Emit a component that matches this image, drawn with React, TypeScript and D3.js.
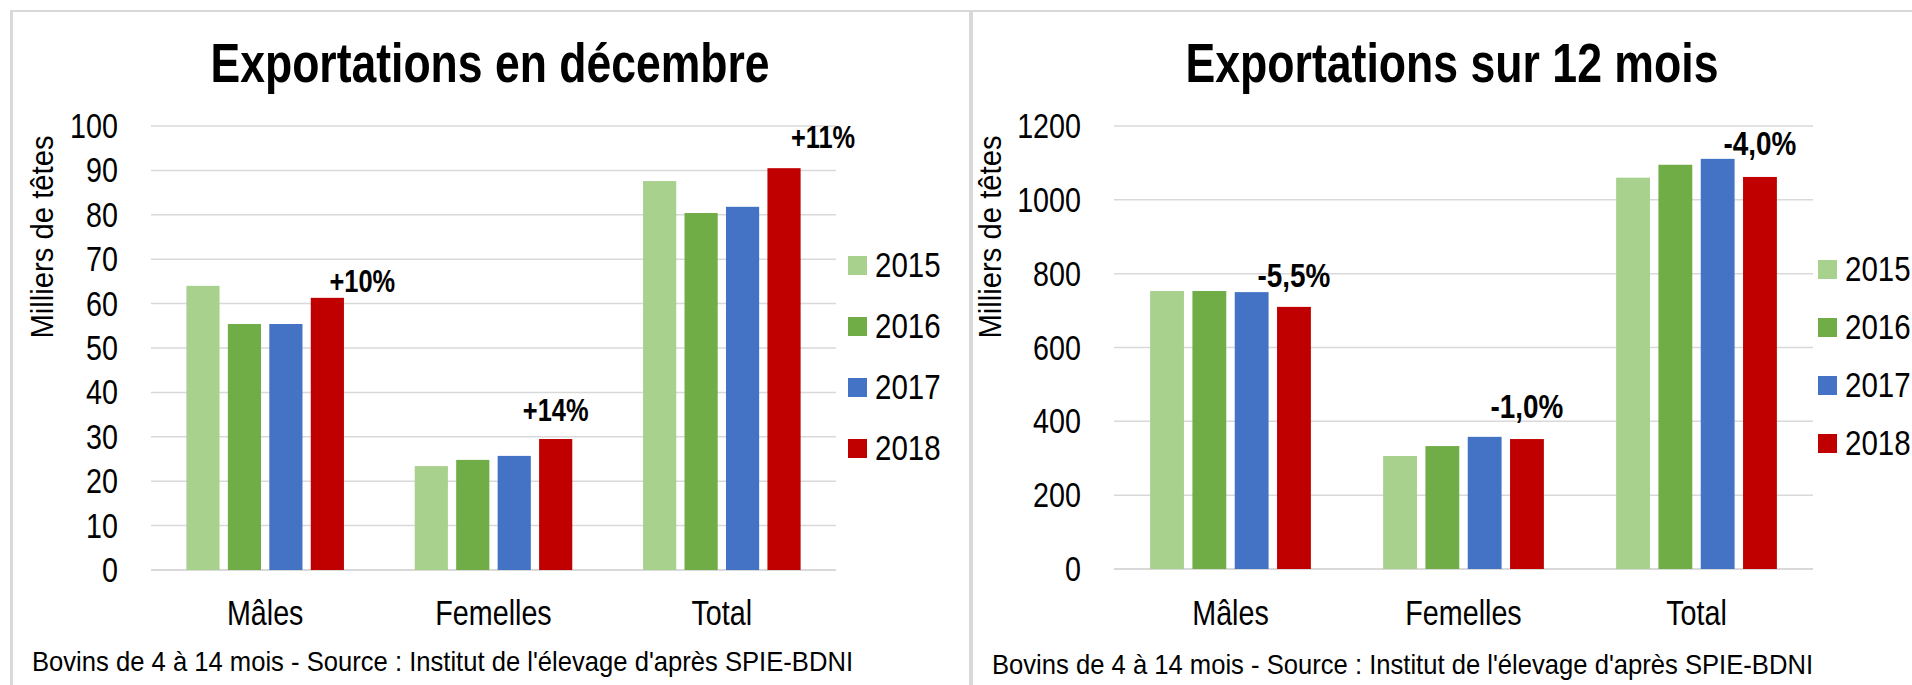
import React from "react";
import * as d3 from "d3";

// categories and series
const categories = ["Mâles", "Femelles", "Total"];
const years = ["2015", "2016", "2017", "2018"];
const colors = ["#a9d18e", "#70ad47", "#4472c4", "#c00000"];

// Exportations en décembre (milliers de têtes)
const dec2015 = [64.0, 23.4, 87.6];
const dec2016 = [55.4, 24.8, 80.4];
const dec2017 = [55.4, 25.7, 81.8];
const dec2018 = [61.3, 29.5, 90.5];
const decChanges = ["+10%", "+14%", "+11%"];
const decTicks = [0, 10, 20, 30, 40, 50, 60, 70, 80, 90, 100];

// Exportations sur 12 mois (milliers de têtes)
const ann2015 = [753, 306, 1060];
const ann2016 = [753, 333, 1095];
const ann2017 = [750, 358, 1111];
const ann2018 = [710, 352, 1062];
const annChanges = ["-5,5%", "-1,0%", "-4,0%"];
const annTicks = [0, 200, 400, 600, 800, 1000, 1200];

const footnote = "Bovins de 4 à 14 mois - Source : Institut de l'élevage d'après SPIE-BDNI";
const yTitle = "Milliers  de têtes";

const FONT = "'Liberation Sans', Arial, sans-serif";
const SX = 0.82; // narrow look

const NText = ({ x, y, size, weight = "normal", anchor = "start", children, len }: any) => (
  <text
    transform={`translate(${x},${y}) scale(${len ? 1 : SX},1)`}
    fontFamily={FONT}
    fontSize={size}
    fontWeight={weight}
    textAnchor={anchor}
    fill="#000"
    textLength={len}
    lengthAdjust={len ? "spacingAndGlyphs" : undefined}
  >
    {children}
  </text>
);

const Panel = ({ p }: any) => {
  const y = d3.scaleLinear().domain([0, p.max]).range([p.bottom, p.top]);
  const x0 = d3.scaleBand().domain(categories).range([p.left, p.right]);
  const bw = x0.bandwidth();
  const x1 = d3
    .scaleBand()
    .domain(years)
    .range([bw * p.groupPad, bw * (1 - p.groupPad)])
    .paddingInner(0.2);

  return (
    <g>
      {/* gridlines */}
      {p.ticks.map((t: number) => (
        <line key={t} x1={p.left} x2={p.right} y1={y(t)} y2={y(t)} stroke="#d9d9d9" strokeWidth={t === 0 ? 2 : 1.5} />
      ))}
      {/* tick labels */}
      {p.ticks.map((t: number) => (
        <NText key={"l" + t} x={p.tickX} y={y(t) + 12} size={35} anchor="end">
          {t}
        </NText>
      ))}
      {/* bars */}
      {p.series.map((vals: number[], si: number) =>
        vals.map((v, ci) => (
          <rect
            key={si + "-" + ci}
            x={x0(categories[ci])! + x1(years[si])!}
            y={y(v)}
            width={x1.bandwidth()}
            height={y(0) - y(v)}
            fill={colors[si]}
          />
        ))
      )}
      {/* change labels over 2018 bars */}
      {p.changes.map((c: string, ci: number) => (
        <NText
          key={"c" + ci}
          x={x0(categories[ci])! + x1("2018")! + x1.bandwidth() / 2 + p.labelDx[ci]}
          y={y(p.series[3][ci]) - p.labelDy[ci]}
          size={p.labelSize}
          weight="bold"
          anchor="middle"
        >
          {c}
        </NText>
      ))}
      {/* category labels */}
      {categories.map((c) => (
        <NText key={c} x={x0(c)! + bw / 2} y={625} size={35} anchor="middle">
          {c}
        </NText>
      ))}
      {/* title */}
      <NText x={p.titleX} y={82} size={55} weight="bold" anchor="middle" len={p.titleLen}>
        {p.title}
      </NText>
      {/* y axis title */}
      <text
        transform={`translate(${p.yTitleX},237) rotate(-90)`}
        fontFamily={FONT}
        fontSize={31}
        textAnchor="middle"
        textLength={203}
        lengthAdjust="spacingAndGlyphs"
      >
        {yTitle}
      </text>
      {/* legend */}
      {years.map((yr, i) => (
        <g key={yr}>
          <rect x={p.legX} y={p.legY + i * p.legStep} width={19} height={19} fill={colors[i]} />
          <NText x={p.legX + 27} y={p.legY + i * p.legStep + 21} size={36}>
            {yr}
          </NText>
        </g>
      ))}
      {/* footnote */}
      <NText x={p.footX} y={p.footY} size={28} len={821}>
        {footnote}
      </NText>
    </g>
  );
};

const panels = [
  {
    title: "Exportations en décembre",
    titleX: 490,
    titleLen: 559,
    max: 100,
    ticks: decTicks,
    series: [dec2015, dec2016, dec2017, dec2018],
    changes: decChanges,
    labelDx: [35, 0, 39],
    labelDy: [6, 18, 20],
    labelSize: 31,
    left: 151,
    right: 836,
    top: 126,
    bottom: 570,
    groupPad: 0.155,
    tickX: 118,
    yTitleX: 53,
    legX: 848,
    legY: 256,
    legStep: 61,
    footX: 32,
    footY: 671,
  },
  {
    title: "Exportations sur 12 mois",
    titleX: 1452,
    titleLen: 533,
    max: 1200,
    ticks: annTicks,
    series: [ann2015, ann2016, ann2017, ann2018],
    changes: annChanges,
    labelDx: [0, 0, 0],
    labelDy: [20, 21, 22],
    labelSize: 34,
    left: 1114,
    right: 1813,
    top: 126,
    bottom: 569,
    groupPad: 0.155,
    tickX: 1081,
    yTitleX: 1001,
    legX: 1818,
    legY: 260,
    legStep: 58,
    footX: 992,
    footY: 674,
  },
];

export default function App() {
  return (
    <svg
      width={1912}
      height={685}
      style={{ position: "absolute", left: 0, top: 0, background: "#fff" }}
    >
      <rect x={0} y={0} width={1912} height={685} fill="#fff" />
      {/* panel frames */}
      <line x1={11} x2={1912} y1={11} y2={11} stroke="#d9d9d9" strokeWidth={2} />
      <line x1={11.5} x2={11.5} y1={10} y2={685} stroke="#d9d9d9" strokeWidth={3} />
      <line x1={971} x2={971} y1={10} y2={685} stroke="#d9d9d9" strokeWidth={4} />
      {panels.map((p, i) => (
        <Panel key={i} p={p} />
      ))}
    </svg>
  );
}
